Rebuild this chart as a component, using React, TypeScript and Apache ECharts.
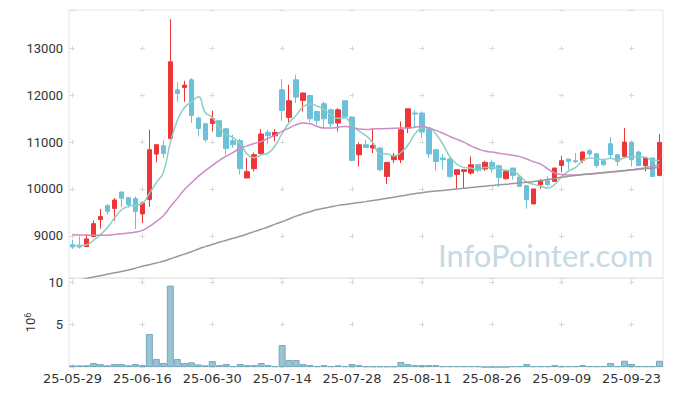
import React, { useEffect, useRef } from 'react';
import * as echarts from 'echarts';

const dates = [
  '25-05-29','25-05-30','25-06-02','25-06-04','25-06-05','25-06-09','25-06-10','25-06-11','25-06-12','25-06-13',
  '25-06-16','25-06-17','25-06-18','25-06-19','25-06-20','25-06-23','25-06-24','25-06-25','25-06-26','25-06-27',
  '25-06-30','25-07-01','25-07-02','25-07-03','25-07-04','25-07-07','25-07-08','25-07-09','25-07-10','25-07-11',
  '25-07-14','25-07-15','25-07-16','25-07-17','25-07-18','25-07-21','25-07-22','25-07-23','25-07-24','25-07-25',
  '25-07-28','25-07-29','25-07-30','25-07-31','25-08-01','25-08-04','25-08-05','25-08-06','25-08-07','25-08-08',
  '25-08-11','25-08-12','25-08-13','25-08-14','25-08-18','25-08-19','25-08-20','25-08-21','25-08-22','25-08-25',
  '25-08-26','25-08-27','25-08-28','25-08-29','25-09-01','25-09-02','25-09-03','25-09-04','25-09-05','25-09-08',
  '25-09-09','25-09-10','25-09-11','25-09-12','25-09-15','25-09-16','25-09-17','25-09-18','25-09-19','25-09-22',
  '25-09-23','25-09-24','25-09-25','25-09-26','25-09-29'
];

const opens = [
  8812, 8800, 8770, 8983, 9346, 9644, 9586, 9936, 9815, 9793,
  9467, 9778, 10746, 10923, 11079, 12117, 12166, 12330, 11514, 11392,
  11399, 11456, 11286, 11030, 11030, 10235, 10433, 10759, 11207, 11136,
  12117, 11527, 12330, 11889, 11996, 11654, 11819, 11690, 11407, 11883,
  11535, 10731, 10944, 10874, 10874, 10269, 10625, 10625, 11300, 11620,
  11620, 11279, 10838, 10661, 10640, 10311, 10375, 10341, 10518, 10426,
  10567, 10497, 10220, 10448, 10256, 10070, 9680, 10092, 10177, 10162,
  10503, 10640, 10603, 10610, 10817, 10753, 10603, 10966, 10731, 10695,
  11002, 10789, 10497, 10661, 10290
];
const closes = [
  8763, 8760, 8934, 9260, 9410, 9522, 9765, 9800, 9665, 9522,
  9702, 10838, 10944, 10759, 12714, 12038, 12217, 11569, 11292, 11051,
  11499, 11121, 10866, 10944, 10433, 10369, 10731, 11173, 11136, 11207,
  11676, 11883, 11961, 12047, 11499, 11463, 11499, 11392, 11690, 11548,
  10610, 10944, 10887, 10930, 10411, 10567, 10716, 11264, 11712, 11600,
  11215, 10746, 10588, 10625, 10269, 10411, 10411, 10518, 10397, 10567,
  10426, 10247, 10375, 10290, 10055, 9772, 10000, 10177, 10092, 10448,
  10603, 10588, 10582, 10789, 10746, 10503, 10518, 10731, 10588, 11002,
  10625, 10497, 10661, 10269, 10994
];
const lows = [
  8720, 8730, 8760, 8975, 9153, 9450, 9324, 9616, 9600, 9147,
  9275, 9616, 10567, 10661, 11060, 11861, 11861, 11407, 11121, 11002,
  11228, 11100, 10731, 10874, 10305, 10230, 10375, 10731, 10966, 11015,
  11456, 11428, 11834, 11650, 11428, 11371, 11300, 11300, 11228, 11520,
  10590, 10482, 10874, 10768, 10375, 10107, 10554, 10554, 11194, 11300,
  11087, 10661, 10397, 10411, 10235, 10000, 10000, 10305, 10354, 10390,
  10354, 10043, 10198, 10198, 10043, 9580, 9680, 10000, 10055, 10162,
  10354, 10411, 10554, 10554, 10695, 10448, 10497, 10646, 10482, 10695,
  10482, 10497, 10375, 10262, 10269
];
const highs = [
  8919, 8990, 9040, 9330, 9574, 9680, 9808, 9940, 9830, 9842,
  9736, 11264, 10960, 11036, 13624, 12281, 12309, 12367, 11548, 11407,
  11669, 11477, 11300, 11158, 11072, 10661, 10780, 11279, 11264, 11279,
  12345, 12224, 12437, 12060, 12010, 11669, 11868, 11712, 11727, 11883,
  11548, 10993, 11051, 11300, 10887, 10567, 10768, 11441, 11712, 11690,
  11654, 11300, 10838, 10746, 10661, 10411, 10411, 10695, 10533, 10603,
  10625, 10518, 10411, 10448, 10269, 10085, 10000, 10213, 10269, 10448,
  10710, 10640, 10768, 10802, 10853, 10753, 10640, 11109, 10731, 11300,
  11002, 10817, 10661, 10661, 11173
];
// volume in millions of shares
const volumes = [
  0.19, 0.19, 0.2, 0.47, 0.35, 0.2, 0.35, 0.35, 0.2, 0.35,
  0.22, 3.9, 0.95, 0.47, 9.6, 0.95, 0.47, 0.55, 0.3, 0.2,
  0.7, 0.22, 0.35, 0.1, 0.35, 0.22, 0.22, 0.47, 0.22, 0.1,
  2.6, 0.83, 0.83, 0.35, 0.22, 0.1, 0.22, 0.1, 0.2, 0.1,
  0.35, 0.22, 0.08, 0.08, 0.08, 0.08, 0.08, 0.6, 0.35, 0.22,
  0.22, 0.22, 0.22, 0.1, 0.1, 0.1, 0.1, 0.1, 0.1, 0,
  0, 0, 0, 0.1, 0.1, 0.35, 0.1, 0.1, 0.1, 0.22,
  0.1, 0.1, 0.1, 0.22, 0.1, 0.1, 0.1, 0.47, 0.1, 0.74,
  0.35, 0.1, 0.1, 0.1, 0.74
];
// closes of the 4 sessions before the first date (for the 5-day average)
const prevCloses = [8770, 8830, 8790, 8800];
const ma20 = [
  9025, 9020, 9015, 9010, 9010, 9015, 9030, 9045, 9060, 9080,
  9117, 9200, 9310, 9430, 9620, 9800, 9985, 10130, 10270, 10390,
  10500, 10610, 10700, 10780, 10874, 10920, 10970, 11015, 11080, 11150,
  11228, 11300, 11370, 11407, 11390, 11340, 11300, 11300, 11320, 11335,
  11320, 11280, 11270, 11279, 11285, 11290, 11295, 11300, 11300, 11320,
  11335, 11300, 11250, 11190, 11121, 11060, 11000, 10920, 10860, 10810,
  10790, 10765, 10740, 10720, 10690, 10640, 10580, 10530, 10430, 10340,
  10310, 10300, 10300, 10310, 10320, 10330, 10345, 10360, 10375, 10390,
  10410, 10430, 10455, 10485, 10518
];
const ma60 = [
  8030, 8060, 8090, 8120, 8150, 8180, 8210, 8240, 8270, 8310,
  8350, 8385, 8420, 8456, 8510, 8560, 8610, 8660, 8720, 8770,
  8815, 8862, 8905, 8948, 8990, 9040, 9090, 9140, 9190, 9250,
  9300, 9360, 9420, 9470, 9515, 9560, 9590, 9620, 9650, 9670,
  9690, 9710, 9730, 9755, 9775, 9800, 9825, 9850, 9875, 9900,
  9920, 9940, 9955, 9970, 9985, 10000, 10015, 10030, 10045, 10060,
  10075, 10090, 10100, 10115, 10135, 10145, 10160, 10180, 10200, 10225,
  10250, 10270, 10290, 10310, 10320, 10335, 10350, 10365, 10380, 10395,
  10410, 10422, 10433, 10445, 10460
];

const W = 673, H = 396;
const GL = 69, GR = 10, PT = 10, PH = 268, VT = 278, VH = 89;
const PMIN = 8100, PMAX = 13820, VMAX = 10.5;
const UP = '#ee3538', DOWN = '#6cc1d9';
const CROSS = '#d9d9d9';
const LABEL = '#333333';

export default function App() {
  const ref = useRef<HTMLDivElement>(null);
  useEffect(() => {
    if (!ref.current) return;
    const chart = echarts.init(ref.current, null, { renderer: 'svg' });
    const all = prevCloses.concat(closes);
    const ma5 = closes.map((_, i) => {
      let s = 0;
      for (let j = i; j < i + 5; j++) s += all[j];
      return Math.round(s / 5);
    });
    const candles = dates.map((_, i) => [opens[i], closes[i], lows[i], highs[i]]);

    const N = dates.length;
    const bandW = (W - GL - GR) / N;
    const step = bandW * 10;
    const cl = 5;
    const hOffset = step - (bandW / 2 - cl / 2);
    const ppu = PH / (PMAX - PMIN);
    const pPeriod = 1000 * ppu;
    const pFirst = (PMAX - Math.floor(PMAX / 1000) * 1000) * ppu;
    const pOffset = pPeriod - ((pFirst - cl / 2) % pPeriod);
    const vppu = VH / VMAX;
    const vPeriod = 5 * vppu;
    const vFirst = (VMAX - 10) * vppu;
    const vOffset = vPeriod - ((vFirst - cl / 2 + vPeriod) % vPeriod);

    const hSplit = { show: true, lineStyle: { color: CROSS, width: 1, type: [cl, step - cl], dashOffset: hOffset } };
    const plain = (v: number) => String(v);

    chart.setOption({
      animation: false,
      backgroundColor: '#ffffff',
      grid: [
        { left: GL, right: GR, top: PT, height: PH, show: true, borderColor: '#e6e6e6', borderWidth: 1 },
        { left: GL, right: GR, top: VT, height: VH, show: true, borderColor: '#e6e6e6', borderWidth: 1 },
      ],
      xAxis: [
        {
          type: 'category', gridIndex: 0, data: dates, boundaryGap: true,
          axisLine: { show: false }, axisTick: { show: false }, axisLabel: { show: false },
          splitLine: { show: true, interval: 9, alignWithLabel: true, lineStyle: { color: CROSS, width: 1, type: [cl, pPeriod - cl], dashOffset: pOffset } },
        },
        {
          type: 'category', gridIndex: 1, data: dates, boundaryGap: true,
          axisLine: { show: false }, axisTick: { show: false },
          axisLabel: { interval: 9, margin: 5, fontFamily: 'DejaVu Sans', fontSize: 13, color: LABEL },
          splitLine: { show: true, interval: 9, alignWithLabel: true, lineStyle: { color: CROSS, width: 1, type: [cl, vPeriod - cl], dashOffset: vOffset } },
        },
      ],
      yAxis: [
        {
          type: 'value', gridIndex: 0, min: PMIN, max: PMAX, splitNumber: 5, scale: true,
          axisLine: { show: false }, axisTick: { show: false },
          axisLabel: { margin: 6, fontFamily: 'Roboto', fontSize: 13, color: LABEL, showMinLabel: false, showMaxLabel: false, formatter: plain },
          splitLine: hSplit,
        },
        {
          type: 'value', gridIndex: 1, min: 0, max: VMAX, interval: 5,
          name: '10{s|6}', nameLocation: 'middle', nameRotate: 90, nameGap: 31,
          nameTextStyle: { fontFamily: 'Roboto', fontSize: 13, color: LABEL, rich: { s: { fontFamily: 'Roboto', fontSize: 9, color: LABEL, verticalAlign: 'top', padding: [0, 0, 5, 0] } } },
          axisLine: { show: false }, axisTick: { show: false },
          axisLabel: { margin: 6, fontFamily: 'Roboto', fontSize: 13, color: LABEL, showMinLabel: false, showMaxLabel: false, formatter: plain },
          splitLine: hSplit,
        },
      ],
      graphic: [
        {
          type: 'text', x: 438, y: 255, silent: true, z: 0,
          style: { text: 'InfoPointer.com', fontFamily: 'Lato', fontSize: 31, fill: '#c6d9e4', align: 'left', verticalAlign: 'middle', textAlign: 'left', textVerticalAlign: 'middle' },
        },
      ],
      series: [
        {
          name: 'price', type: 'candlestick', xAxisIndex: 0, yAxisIndex: 0, data: candles, barWidth: 5,
          itemStyle: { color: UP, color0: DOWN, borderColor: UP, borderColor0: DOWN, borderWidth: 1 },
          z: 3,
        },
        {
          name: 'MA5', type: 'line', xAxisIndex: 0, yAxisIndex: 0, data: ma5, smooth: true, symbol: 'none',
          lineStyle: { color: '#8dcfc0', width: 1.5 }, z: 4,
        },
        {
          name: 'MA20', type: 'line', xAxisIndex: 0, yAxisIndex: 0, data: ma20, smooth: true, symbol: 'none',
          lineStyle: { color: '#cd8cc6', width: 1.5 }, z: 4,
        },
        {
          name: 'MA60', type: 'line', xAxisIndex: 0, yAxisIndex: 0, data: ma60, smooth: true, symbol: 'none',
          lineStyle: { color: '#999999', width: 1.5 }, z: 4,
        },
        {
          name: 'volume', type: 'bar', xAxisIndex: 1, yAxisIndex: 1, data: volumes, barCategoryGap: '0%',
          itemStyle: { color: '#9ac3d3', borderColor: '#76a8bc', borderWidth: 1 },
        },
      ],
    });
    return () => chart.dispose();
  }, []);
  return <div ref={ref} style={{ position: 'fixed', left: 0, top: 0, width: W, height: H }} />;
}
